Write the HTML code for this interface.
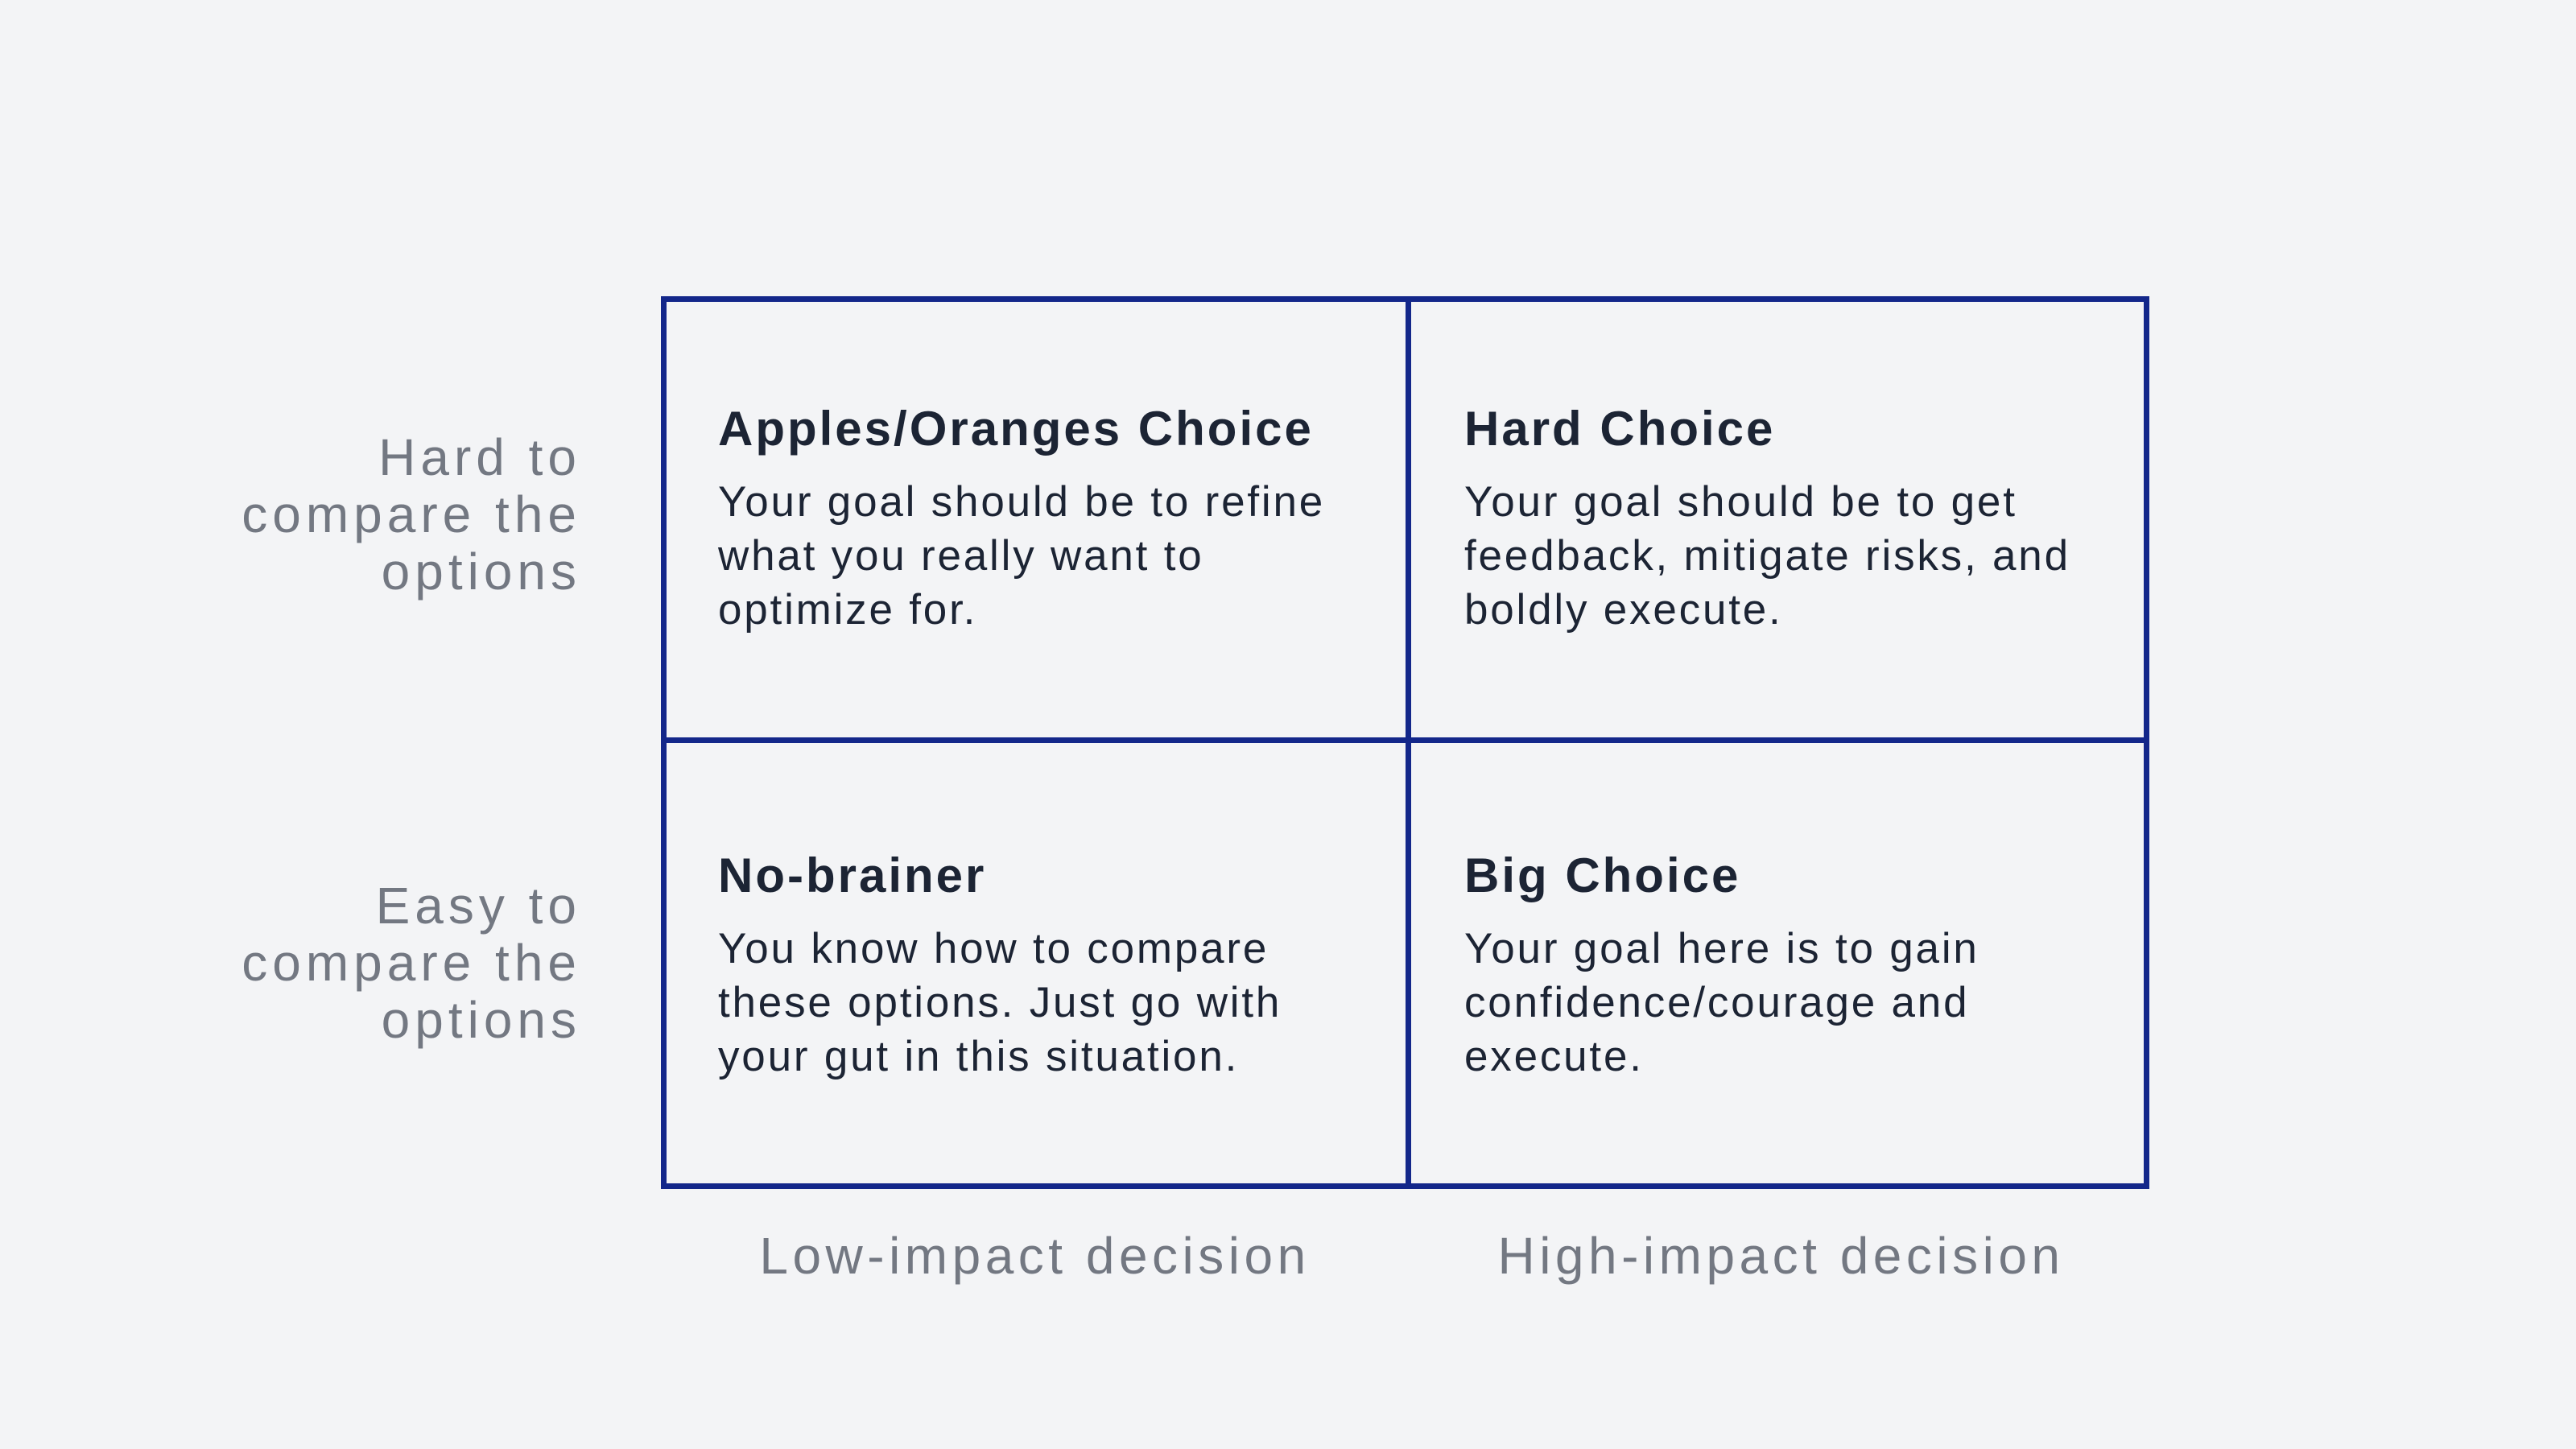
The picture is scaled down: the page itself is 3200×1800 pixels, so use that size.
<!DOCTYPE html>
<html><head><meta charset="utf-8"><style>
html,body{margin:0;padding:0;}
body{width:3200px;height:1800px;background:#f3f4f6;position:relative;overflow:hidden;font-family:"Liberation Sans",sans-serif;}
.box{position:absolute;border:7px solid #13278a;box-sizing:border-box;}
.t{position:absolute;white-space:nowrap;}
.h{font-weight:bold;font-size:60px;line-height:60px;color:#1c2434;letter-spacing:3px;}
.b{font-size:53px;line-height:67px;color:#1c2434;letter-spacing:2.8px;}
.side{font-size:64px;line-height:71px;color:#737882;text-align:right;width:700px;left:22px;letter-spacing:6px;}
.bot{font-size:64px;line-height:64px;color:#737882;text-align:center;width:927px;letter-spacing:5.5px;}
</style></head><body>
<div class="box" style="left:821px;top:368px;width:1849px;height:1109px;"></div>
<div style="position:absolute;left:1746px;top:368px;width:7px;height:1109px;background:#13278a"></div>
<div style="position:absolute;left:821px;top:916px;width:1849px;height:7px;background:#13278a"></div>

<div class="t side" style="top:533px">Hard to<br>compare the<br>options</div>
<div class="t side" style="top:1090px">Easy to<br>compare the<br>options</div>

<div class="t h" style="left:892px;top:503px">Apples/Oranges Choice</div>
<div class="t b" style="left:892px;top:590px">Your goal should be to refine<br>what you really want to<br>optimize for.</div>

<div class="t h" style="left:1819px;top:503px">Hard Choice</div>
<div class="t b" style="left:1819px;top:590px">Your goal should be to get<br>feedback, mitigate risks, and<br>boldly execute.</div>

<div class="t h" style="left:892px;top:1058px">No-brainer</div>
<div class="t b" style="left:892px;top:1145px">You know how to compare<br>these options. Just go with<br>your gut in this situation.</div>

<div class="t h" style="left:1819px;top:1058px">Big Choice</div>
<div class="t b" style="left:1819px;top:1145px">Your goal here is to gain<br>confidence/courage and<br>execute.</div>

<div class="t bot" style="left:822px;top:1528px">Low-impact decision</div>
<div class="t bot" style="left:1749px;top:1528px">High-impact decision</div>
</body></html>
